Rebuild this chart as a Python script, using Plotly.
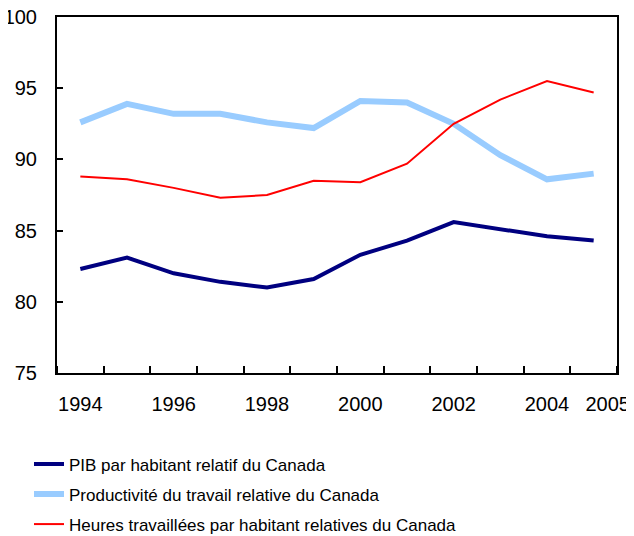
import plotly.graph_objects as go

years = [1994, 1995, 1996, 1997, 1998, 1999, 2000, 2001, 2002, 2003, 2004, 2005]
pib = [82.3, 83.1, 82.0, 81.4, 81.0, 81.6, 83.3, 84.3, 85.6, 85.1, 84.6, 84.3]
productivite = [92.6, 93.9, 93.2, 93.2, 92.6, 92.2, 94.1, 94.0, 92.5, 90.3, 88.6, 89.0]
heures = [88.8, 88.6, 88.0, 87.3, 87.5, 88.5, 88.4, 89.7, 92.5, 94.2, 95.5, 94.7]

tick_positions = [1994, 1996, 1998, 2000, 2002, 2004, 2005.3]
tick_labels = ["1994", "1996", "1998", "2000", "2002", "2004", "2005"]

names = [
    "PIB par habitant relatif du Canada",
    "Productivité du travail relative du Canada",
    "Heures travaillées par habitant relatives du Canada",
]

font = "Liberation Sans, Arial, Helvetica, sans-serif"

fig = go.Figure()
fig.add_trace(go.Scatter(x=years, y=pib, mode="lines", name=names[0],
                         line=dict(color="#000080", width=4), legendgroup="a"))
fig.add_trace(go.Scatter(x=years, y=productivite, mode="lines", name=names[1],
                         line=dict(color="#99CCFF", width=6), legendgroup="b"))
fig.add_trace(go.Scatter(x=years, y=heures, mode="lines", name=names[2],
                         line=dict(color="#FF0000", width=2), legendgroup="c"))

fig.update_layout(
    width=626, height=528,
    margin=dict(l=49, r=17, t=9, b=163, autoexpand=False),
    paper_bgcolor="white", plot_bgcolor="white",
    font=dict(family=font, size=20, color="black"),
    showlegend=True,
    legend=dict(x=-0.05, xanchor="left", y=-0.206, yanchor="top",
                font=dict(size=17), traceorder="grouped", tracegroupgap=5,
                bgcolor="rgba(0,0,0,0)"),
    xaxis=dict(range=[1993.5, 2005.5], tickmode="array", tickvals=tick_positions,
               ticktext=tick_labels, ticks="", showgrid=False, zeroline=False,
               showline=True, linecolor="black", linewidth=2, mirror=True,
               ticklabelstandoff=12, automargin=False, ticklabeloverflow="allow",
               minor=dict(tick0=1993.5, dtick=1, ticks="inside", ticklen=7,
                          tickwidth=2, tickcolor="black", showgrid=False)),
    yaxis=dict(range=[75, 100], dtick=5, ticks="inside", ticklen=6, tickwidth=2,
               tickcolor="black", showgrid=False, zeroline=False,
               showline=True, linecolor="black", linewidth=2, mirror=True,
               ticklabelstandoff=14, automargin=False, ticklabeloverflow="allow"),
)

fig.write_html("out.html")
